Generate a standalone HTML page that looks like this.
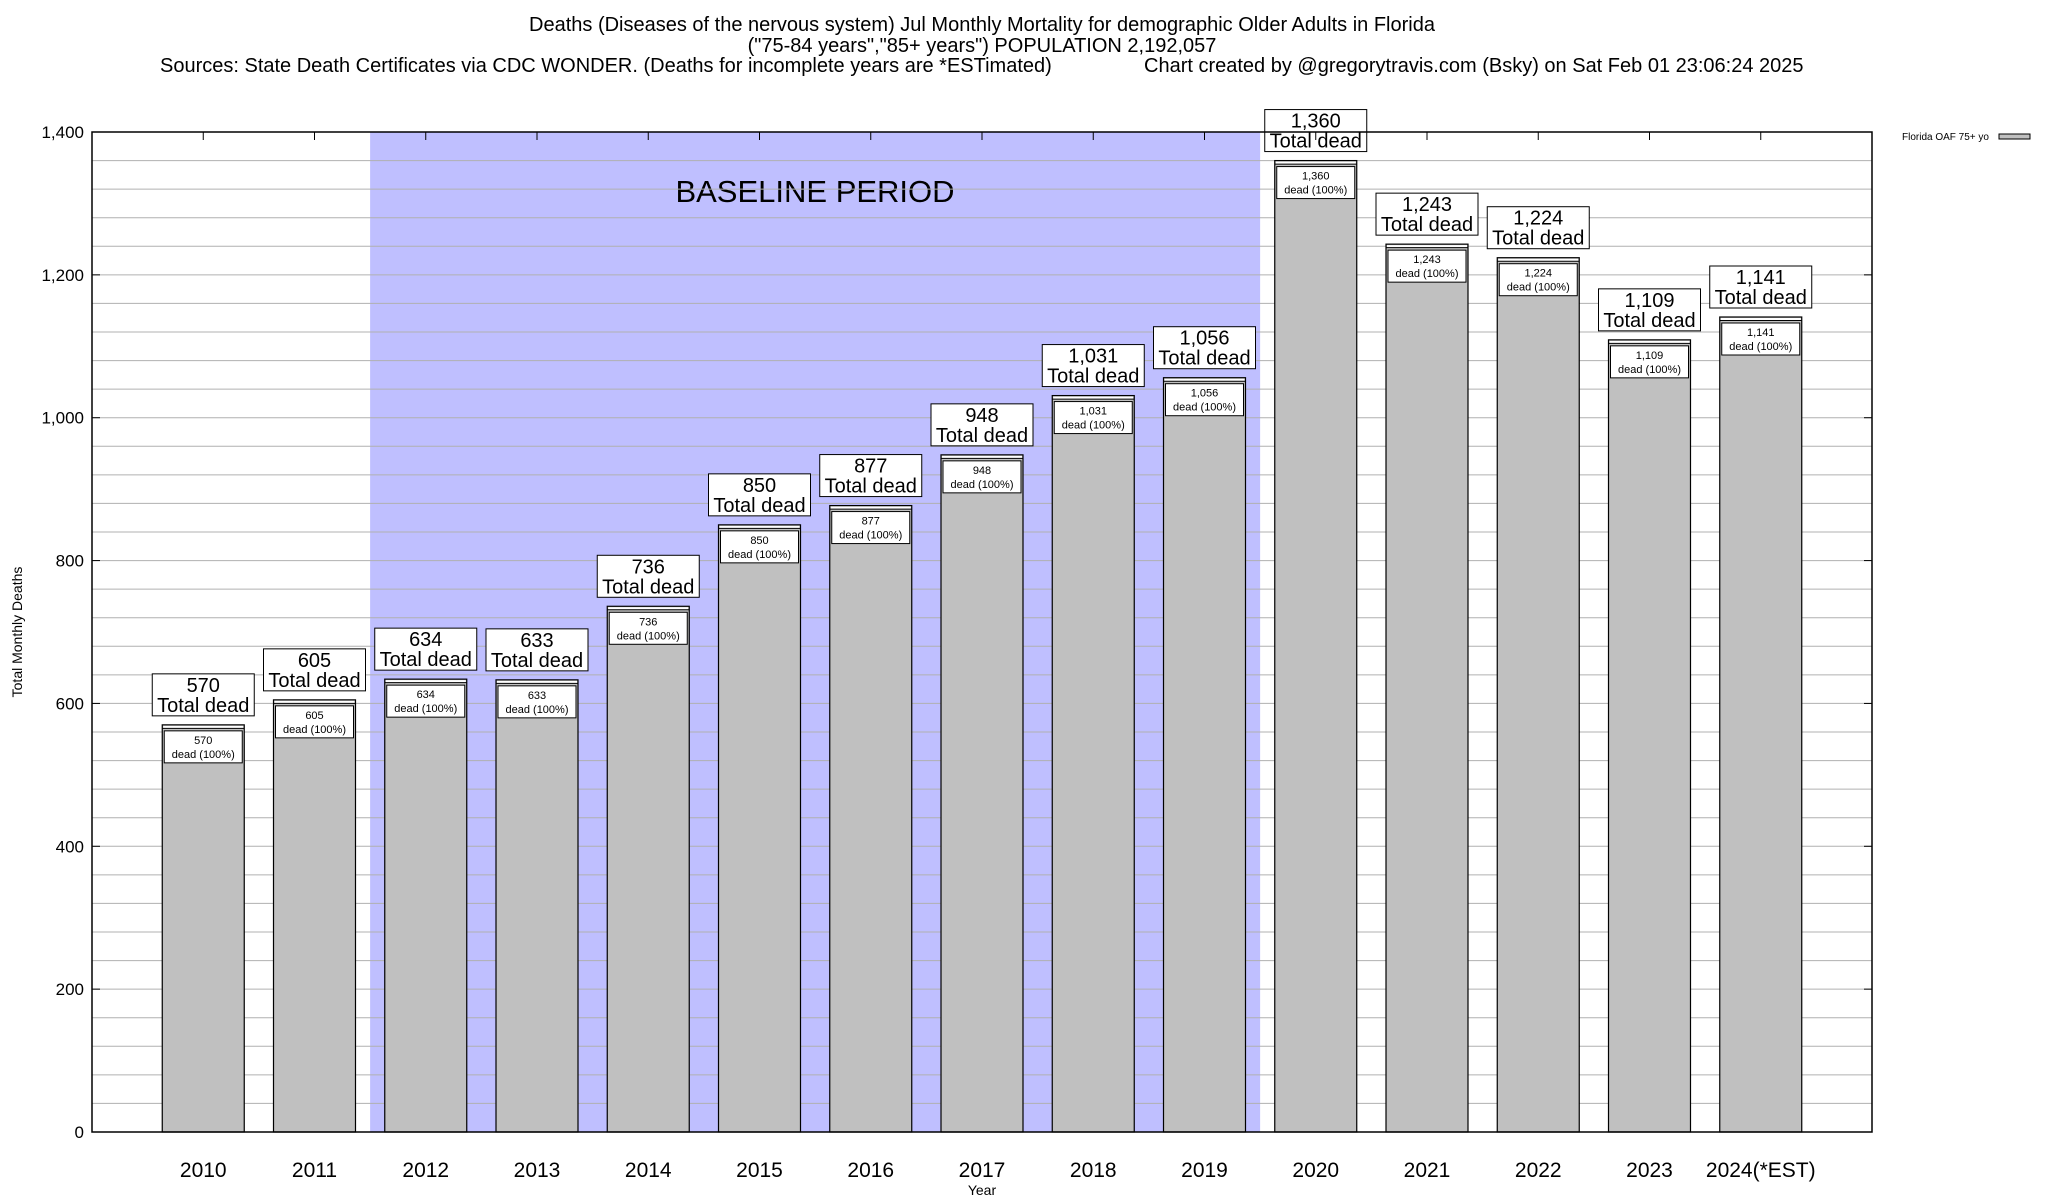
<!DOCTYPE html>
<html><head><meta charset="utf-8">
<style>
html,body{margin:0;padding:0;background:#fff;}
svg{display:block;font-family:"Liberation Sans",Arial,sans-serif;}
</style></head>
<body>
<svg id="chart" width="2048" height="1200" viewBox="0 0 2048 1200">
<text x="982" y="31" font-size="20" text-anchor="middle">Deaths (Diseases of the nervous system) Jul Monthly Mortality for demographic Older Adults in Florida</text>
<text x="982" y="52" font-size="20" text-anchor="middle">("75-84 years","85+ years") POPULATION 2,192,057</text>
<text x="160" y="72" font-size="20">Sources: State Death Certificates via CDC WONDER. (Deaths for incomplete years are *ESTimated)</text>
<text x="1144" y="72" font-size="20">Chart created by @gregorytravis.com (Bsky) on Sat Feb 01 23:06:24 2025</text>
<g id="plot"></g>
<text transform="translate(22,632) rotate(-90)" font-size="14" text-anchor="middle">Total Monthly Deaths</text>
<text x="982" y="1195" font-size="14" text-anchor="middle">Year</text>
<text x="1902" y="140" font-size="10">Florida OAF 75+ yo</text>
<rect x="1999" y="134" width="31" height="5" fill="#c0c0c0" stroke="#000" stroke-width="1"/>
</svg>
<script>
const categories = ["2010","2011","2012","2013","2014","2015","2016","2017","2018","2019","2020","2021","2022","2023","2024(*EST)"];
const deaths = [570,605,634,633,736,850,877,948,1031,1056,1360,1243,1224,1109,1141];
const yTicks = [0,200,400,600,800,1000,1200,1400];
const baselineRange = ["2012","2019"];

const NS="http://www.w3.org/2000/svg";
const L=92,R=1872,T=132,B=1132,YMAX=1400;
const slot=(R-L)/(categories.length+1);
const xc=i=>L+(i+1)*slot;
const y=v=>B-(v/YMAX)*(B-T);
const g=document.getElementById('plot');
function el(tag,attrs,parent){const e=document.createElementNS(NS,tag);for(const k in attrs)e.setAttribute(k,attrs[k]);(parent||g).appendChild(e);return e;}
function fmt(v){return v.toLocaleString('en-US');}

const b0=categories.indexOf(baselineRange[0]),b1=categories.indexOf(baselineRange[1]);
const bs=el('rect',{x:xc(b0)-slot/2,y:T,width:(b1-b0+1)*slot,height:B-T,fill:'#bfbfff'});


const bt=el('text',{x:815,y:202,'font-size':31,'text-anchor':'middle'});
bt.textContent='BASELINE PERIOD';



for(let v=40;v<YMAX;v+=40){
  const gl=el('line',{x1:L,x2:R,y1:y(v),y2:y(v),stroke:'#b0b0b0','stroke-width':1});
  
  
}
yTicks.forEach(v=>{
  el('line',{x1:L,x2:L+8,y1:y(v),y2:y(v),stroke:'#000'});
  el('line',{x1:R,x2:R-8,y1:y(v),y2:y(v),stroke:'#000'});
  const t=el('text',{x:L-8,y:y(v)+6,'font-size':17,'text-anchor':'end'});
  t.textContent=fmt(v);
  
  
});

categories.forEach((c,i)=>{
  const v=deaths[i],cx=xc(i),w=82,top=y(v);
  const bar=el('rect',{x:cx-w/2,y:top,width:w,height:B-top,fill:'#c0c0c0',stroke:'#000','stroke-width':1.2});
  
  
  el('rect',{x:cx-w/2+1,y:top+1,width:w-2,height:2.5,fill:'#fff'});
  el('line',{x1:cx-w/2,x2:cx+w/2,y1:top+3.5,y2:top+3.5,stroke:'#000','stroke-width':1});
  const ib=el('rect',{x:cx-39,y:top+6,width:78,height:32,fill:'#fff',stroke:'#000','stroke-width':1});
  
  
  const t1=el('text',{x:cx,y:top+19,'font-size':11,'text-anchor':'middle'});t1.textContent=fmt(v);
  const t2=el('text',{x:cx,y:top+33,'font-size':11,'text-anchor':'middle'});t2.textContent='dead (100%)';
  const ob=el('rect',{x:cx-51,y:top-51,width:102,height:42,fill:'#fff',stroke:'#000','stroke-width':1});
  
  
  const t3=el('text',{x:cx,y:top-33,'font-size':20,'text-anchor':'middle'});t3.textContent=fmt(v);
  const t4=el('text',{x:cx,y:top-13,'font-size':20,'text-anchor':'middle'});t4.textContent='Total dead';
  el('line',{x1:cx,x2:cx,y1:T,y2:T+8,stroke:'#000'});
  const xl=el('text',{x:cx,y:1177,'font-size':21,'text-anchor':'middle'});
  xl.textContent=c;
  
  
});
const frame=el('rect',{x:L,y:T,width:R-L,height:B-T,fill:'none',stroke:'#000','stroke-width':1.5});


</script>
</body></html>
